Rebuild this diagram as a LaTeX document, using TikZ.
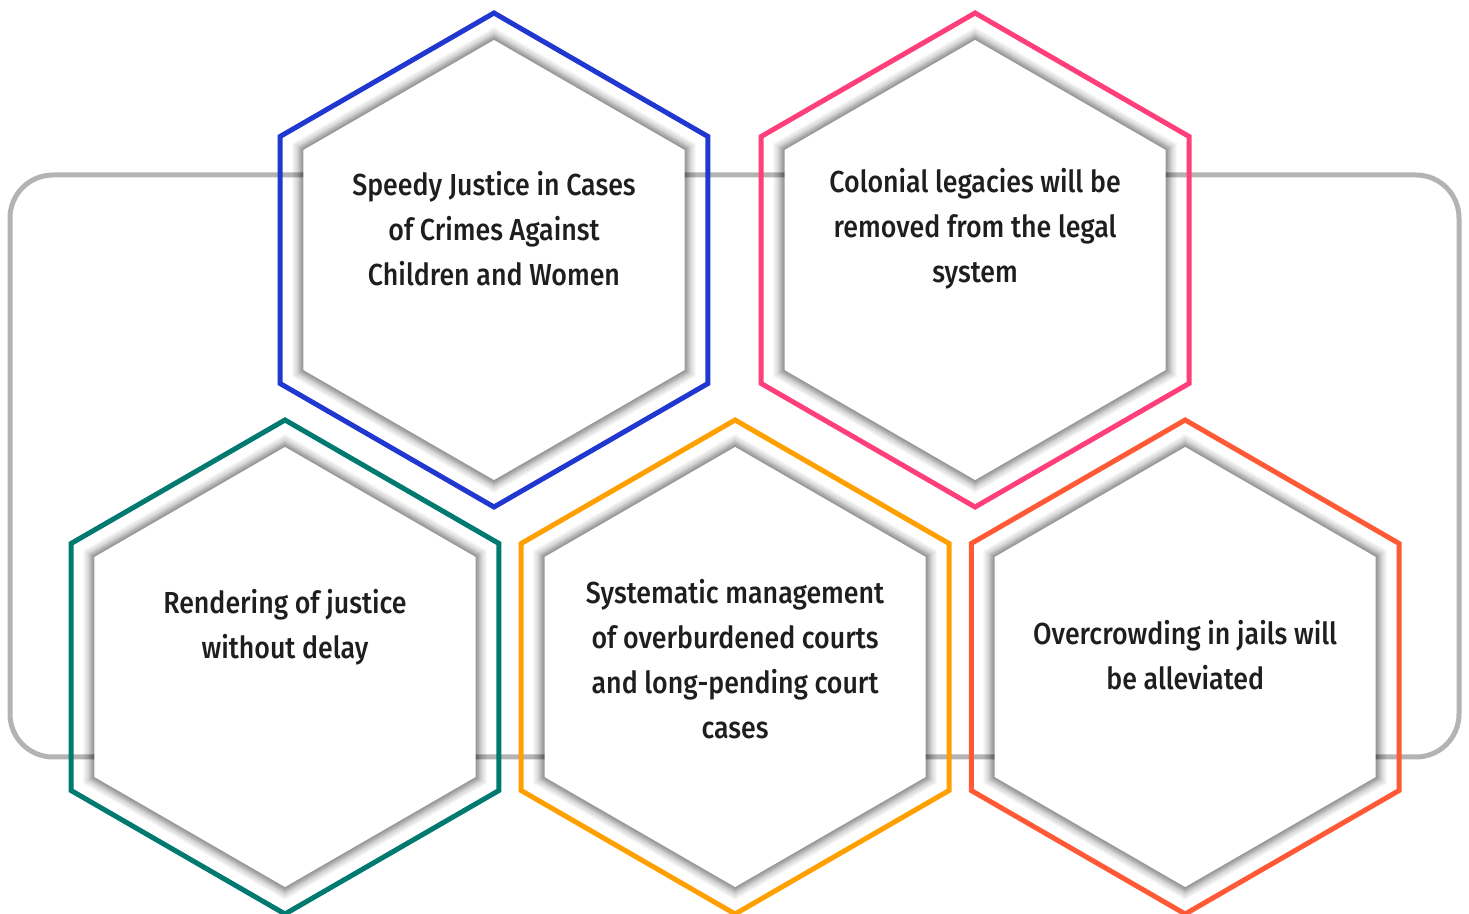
\documentclass[tikz,border=0pt]{standalone}
\usepackage{fontspec}
\setmainfont[FakeStretch=0.88, UprightFont={* Medium}]{Fira Sans}
\usepackage{tikz}
\usetikzlibrary{shapes.geometric,positioning}

\definecolor{hexblue}{HTML}{2038D0}
\definecolor{hexpink}{HTML}{FF3F7A}
\definecolor{hexteal}{HTML}{007A70}
\definecolor{hexorange}{HTML}{FFA000}
\definecolor{hexred}{HTML}{FF5A35}
\definecolor{framegray}{HTML}{B3B3B3}
\definecolor{ink}{HTML}{1E1E1E}

\begin{document}
\begin{tikzpicture}[x=0.5pt, y=-0.5pt, node distance=26.6pt,
	hex/.style={regular polygon, regular polygon sides=6, shape border rotate=30, minimum size=247pt, inner sep=0pt, outer sep=0pt, line width=2.5pt},
	core/.style={hex, minimum size=220pt, fill=white, draw=none},
	glow/.style={hex, minimum size=#1, fill=black, fill opacity=0.027, draw=none},
	txt/.style={align=center, text=ink, font=\fontsize{15.2}{22.5}\selectfont}]
		\useasboundingbox (0,0) rectangle (1469,914);
		\draw[framegray, line width=2.5pt, rounded corners=21.5pt] (10,175) rectangle (1459,757);

		\node[hex, draw=hexblue] (speedy) at (494,260) {};
		\node[hex, draw=hexpink, right=of speedy] (colonial) {};
		\node[hex, draw=hexteal] (delay) at (285,667) {};
		\node[hex, draw=hexorange, right=11.1pt of delay] (courts) {};
		\node[hex, draw=hexred, right=11.1pt of courts] (jails) {};

		% soft shadow round each inner hexagon
		\foreach \h in {speedy,colonial,delay,courts,jails}{
			\foreach \s in {233,232,...,227,226.5,226,...,221} \node[glow=\s pt] at (\h) {};
			\node[core] (\h-core) at (\h) {};
		}

		\node[txt] (speedy-text) at ([yshift=15.5pt]speedy.center) {Speedy Justice in Cases\\of Crimes Against\\Children and Women};
		\node[txt] (colonial-text) at ([yshift=15.5pt]colonial.center) {Colonial legacies will be\\removed from the legal\\system};
		\node[txt] (delay-text) at ([yshift=20pt]delay.center) {Rendering of justice\\without delay};
		\node[txt] (courts-text) at ([yshift=4pt]courts.center) {Systematic management\\of overburdened courts\\and long-pending court\\cases};
		\node[txt] (jails-text) at ([yshift=6pt]jails.center) {Overcrowding in jails will\\be alleviated};
	\end{tikzpicture}
\end{document}
